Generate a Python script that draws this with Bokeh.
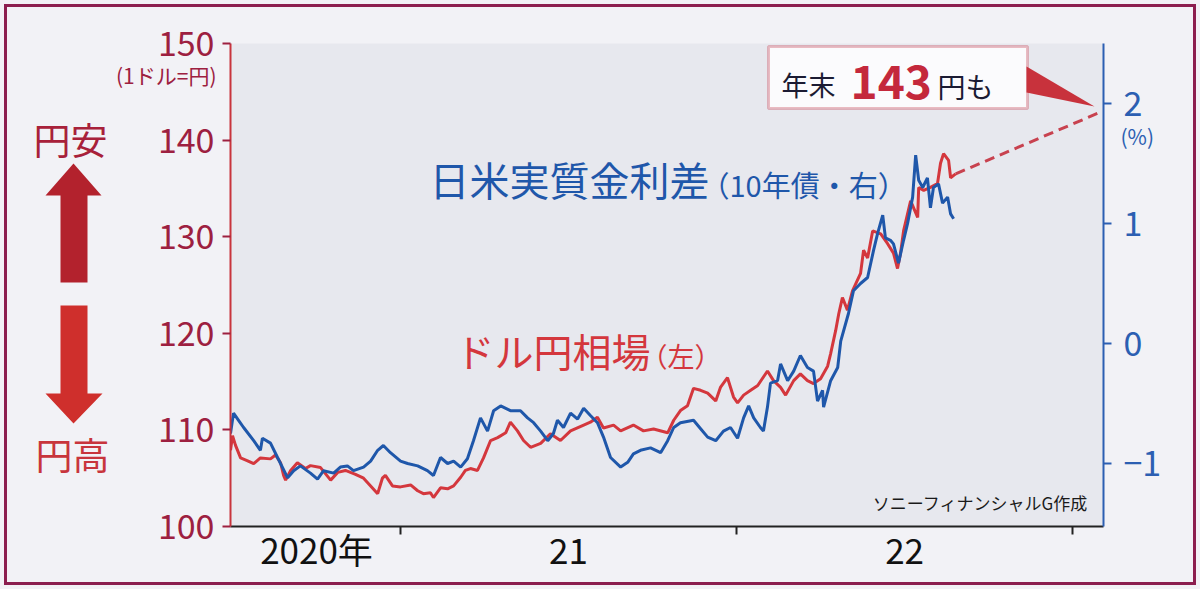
from bokeh.plotting import figure
from bokeh.layouts import row
from bokeh.models import Range1d, LinearAxis, FixedTicker, Label, PolyAnnotation, BoxAnnotation
from bokeh.core.properties import value
from bokeh.embed import file_html
from bokeh.resources import INLINE

FONT = "Noto Sans CJK JP"

# ---- data (time in decimal years) ----
# USD/JPY (left axis, yen per dollar)
usd_t = [2020.494, 2020.500, 2020.509, 2020.524, 2020.545, 2020.563, 2020.583, 2020.613, 2020.628, 2020.643,
         2020.652, 2020.658, 2020.673, 2020.693, 2020.717, 2020.732, 2020.762, 2020.792, 2020.813, 2020.836,
         2020.866, 2020.890, 2020.911, 2020.932, 2020.946, 2020.955, 2020.976, 2021.000, 2021.030, 2021.051,
         2021.068, 2021.089, 2021.098, 2021.119, 2021.140, 2021.158, 2021.179, 2021.193, 2021.208, 2021.229,
         2021.247, 2021.268, 2021.289, 2021.313, 2021.327, 2021.348, 2021.366, 2021.387, 2021.417, 2021.446,
         2021.476, 2021.506, 2021.545, 2021.565, 2021.586, 2021.604, 2021.634, 2021.655, 2021.693, 2021.723,
         2021.753, 2021.795, 2021.813, 2021.833, 2021.854, 2021.872, 2021.893, 2021.914, 2021.938, 2021.952,
         2021.973, 2021.991, 2022.003, 2022.021, 2022.042, 2022.063, 2022.092, 2022.110, 2022.131, 2022.146,
         2022.170, 2022.190, 2022.211, 2022.229, 2022.250, 2022.271, 2022.280, 2022.295, 2022.304, 2022.315,
         2022.330, 2022.345, 2022.369, 2022.378, 2022.390, 2022.405, 2022.429, 2022.449, 2022.467, 2022.479,
         2022.488, 2022.497, 2022.518, 2022.539, 2022.542, 2022.557, 2022.577, 2022.598, 2022.607, 2022.616,
         2022.631, 2022.637, 2022.652]
usd_v = [107.9, 109.4, 108.4, 107.1, 106.8, 106.5, 107.1, 107.0, 107.4, 106.6,
         105.3, 104.8, 105.8, 106.6, 106.0, 106.3, 106.1, 104.8, 105.6, 105.8,
         105.4, 105.0, 104.2, 103.4, 105.0, 105.3, 104.2, 104.1, 104.3, 103.7,
         103.4, 103.5, 103.0, 104.0, 103.9, 104.2, 105.1, 105.8, 106.0, 105.8,
         107.1, 108.9, 109.2, 109.7, 110.8, 109.9, 108.9, 108.2, 108.6, 109.6,
         108.9, 109.9, 110.5, 110.8, 111.3, 110.2, 110.5, 109.9, 110.5, 109.9,
         110.1, 109.7, 111.0, 112.0, 112.5, 114.3, 114.1, 113.8, 113.0, 114.4,
         115.4, 113.4, 112.8, 113.6, 114.1, 114.6, 116.1, 115.1, 114.4, 113.6,
         115.1, 115.8, 115.1, 114.8, 115.3, 116.6, 117.9, 120.3, 122.0, 123.7,
         122.4, 124.4, 126.2, 128.6, 127.8, 130.6, 130.3, 129.3, 128.3, 126.7,
         128.3, 130.6, 133.7, 132.0, 135.1, 134.8, 135.1, 135.5, 137.6, 138.6,
         137.9, 136.1, 136.5]

# Japan-US real interest-rate gap, 10y (right axis, %)
rr_t = [2020.494, 2020.503, 2020.518, 2020.533, 2020.563, 2020.583, 2020.589, 2020.613, 2020.634, 2020.664,
        2020.682, 2020.702, 2020.732, 2020.753, 2020.771, 2020.801, 2020.821, 2020.842, 2020.860, 2020.890,
        2020.911, 2020.932, 2020.949, 2020.970, 2021.000, 2021.021, 2021.051, 2021.080, 2021.098, 2021.119,
        2021.140, 2021.158, 2021.179, 2021.199, 2021.217, 2021.238, 2021.259, 2021.277, 2021.298, 2021.327,
        2021.357, 2021.378, 2021.396, 2021.417, 2021.438, 2021.455, 2021.467, 2021.485, 2021.506, 2021.527,
        2021.545, 2021.565, 2021.586, 2021.604, 2021.625, 2021.655, 2021.676, 2021.693, 2021.714, 2021.744,
        2021.774, 2021.795, 2021.813, 2021.833, 2021.872, 2021.893, 2021.914, 2021.938, 2021.961, 2021.982,
        2022.003, 2022.021, 2022.036, 2022.051, 2022.071, 2022.080, 2022.092, 2022.101, 2022.122, 2022.131,
        2022.152, 2022.170, 2022.190, 2022.211, 2022.229, 2022.241, 2022.256, 2022.259, 2022.280, 2022.301,
        2022.310, 2022.333, 2022.348, 2022.369, 2022.390, 2022.408, 2022.420, 2022.435, 2022.443, 2022.458,
        2022.467, 2022.482, 2022.497, 2022.509, 2022.524, 2022.533, 2022.542, 2022.554, 2022.568, 2022.577,
        2022.586, 2022.601, 2022.613, 2022.628, 2022.637, 2022.646]
rr_v = [-0.75, -0.58, -0.64, -0.70, -0.81, -0.89, -0.79, -0.83, -0.95, -1.12,
        -1.06, -1.02, -1.08, -1.13, -1.06, -1.08, -1.03, -1.02, -1.06, -1.03,
        -0.98, -0.89, -0.85, -0.91, -0.98, -1.00, -1.02, -1.06, -1.10, -0.95,
        -1.00, -0.98, -1.03, -0.96, -0.81, -0.62, -0.73, -0.56, -0.52, -0.56,
        -0.56, -0.62, -0.66, -0.73, -0.81, -0.75, -0.64, -0.70, -0.58, -0.63,
        -0.54, -0.60, -0.66, -0.78, -0.95, -1.03, -0.99, -0.92, -0.89, -0.87,
        -0.91, -0.81, -0.70, -0.66, -0.64, -0.71, -0.78, -0.81, -0.73, -0.70,
        -0.79, -0.62, -0.52, -0.62, -0.70, -0.73, -0.53, -0.33, -0.31, -0.17,
        -0.31, -0.23, -0.10, -0.20, -0.23, -0.48, -0.39, -0.53, -0.31, -0.20,
        0.02, 0.25, 0.44, 0.50, 0.55, 0.78, 0.92, 1.07, 0.88, 0.86,
        0.83, 0.67, 0.86, 1.00, 1.22, 1.57, 1.36, 1.30, 1.38, 1.13,
        1.30, 1.33, 1.17, 1.22, 1.08, 1.04]

# year-end forecast (dashed)
fc_t = [2022.652, 2023.09]
fc_v = [136.5, 143.0]

left_ticks = [100, 110, 120, 130, 140, 150]
right_ticks = [-1, 0, 1, 2]
year_bounds = [2021, 2022, 2023]
year_label_pos = [2020.75, 2021.5, 2022.5]
year_labels = ["2020年", "21", "22"]
yen_unit_pos, yen_unit = 146.79, "(1ドル=円)"
pct_unit_pos, pct_unit = 1.733, "(%)"

# ---- colours ----
RED = "#d4373d"
RED_DARK = "#9d2040"
BLUE = "#1f57aa"
BLUE_AX = "#2c5fb2"
INK = "#1b1b33"
BG_OUT = "#f2f2f6"
BG_IN = "#e7e8ee"

H = 589
TOP, BOTTOM = 43, 63
LEFT_W = 110
MAIN_W = 1200 - LEFT_W

# ================= left decoration panel =================
lf = figure(width=LEFT_W, height=H, output_backend="svg", toolbar_location=None,
            x_range=Range1d(0, LEFT_W), y_range=Range1d(H - BOTTOM, TOP),
            x_axis_location=None, y_axis_location=None,
            min_border_left=0, min_border_right=0, min_border_top=TOP, min_border_bottom=BOTTOM)
lf.outline_line_color = None
lf.background_fill_alpha = 0
lf.border_fill_alpha = 0
lf.grid.visible = False
# up arrow (円安) and down arrow (円高)
lf.patch([73, 101, 87, 87, 60, 60, 45], [163, 195, 195, 282, 282, 195, 195],
         fill_color="#b3222d", line_color=None)
lf.patch([60, 87, 87, 102, 73, 45, 60], [305, 305, 393, 393, 423, 393, 393],
         fill_color="#cf2f2c", line_color=None)
lf.text(x=[33], y=[138], text=["円安"], text_font=value(FONT), text_font_size="37px",
        text_color="#a8213a", text_baseline="middle", text_align="left")
lf.text(x=[35], y=[453], text=["円高"], text_font=value(FONT), text_font_size="37px",
        text_color="#c8353c", text_baseline="middle", text_align="left")

# ================= main chart =================
p = figure(width=MAIN_W, height=H, output_backend="svg", toolbar_location=None,
           x_range=Range1d(2020.494, 2023.092), y_range=Range1d(100, 150),
           min_border_left=120, min_border_right=97, min_border_top=TOP, min_border_bottom=BOTTOM)
p.extra_y_ranges = {"rate": Range1d(-1.525, 2.5)}
p.background_fill_color = BG_IN
p.border_fill_alpha = 0
p.outline_line_color = None
p.grid.visible = False

# bottom axis: year boundaries as (minor) ticks, labels centred in each year
xa = p.xaxis[0]
xa.ticker = FixedTicker(ticks=year_label_pos, minor_ticks=year_bounds)
xa.major_label_overrides = {k: v for k, v in zip(year_label_pos, year_labels)}
xa.major_tick_in = 0
xa.major_tick_out = 0
xa.minor_tick_in = 0
xa.minor_tick_out = 8
xa.minor_tick_line_color = "#222222"
xa.minor_tick_line_width = 2
xa.axis_line_color = "#222222"
xa.axis_line_width = 2
xa.major_label_standoff = -12
xa.major_label_text_font = FONT
xa.major_label_text_font_size = "35px"
xa.major_label_text_color = "#111111"

# left axis (yen)
ya = p.yaxis[0]
ya.ticker = FixedTicker(ticks=left_ticks, minor_ticks=[])
ya.axis_line_color = "#c8343c"
ya.axis_line_width = 2
ya.major_tick_in = 0
ya.major_tick_out = 8
ya.major_tick_line_color = RED_DARK
ya.major_tick_line_width = 2
ya.minor_tick_line_color = None
ya.major_label_standoff = 8
ya.major_label_text_font = FONT
ya.major_label_text_font_size = "34px"
ya.major_label_text_color = RED_DARK

# unit note under 150
ya2 = LinearAxis(ticker=FixedTicker(ticks=[yen_unit_pos], minor_ticks=[]))
ya2.major_label_overrides = {yen_unit_pos: yen_unit}
ya2.axis_line_color = None
ya2.major_tick_line_color = None
ya2.minor_tick_line_color = None
ya2.major_label_standoff = -68
ya2.major_label_text_font = FONT
ya2.major_label_text_font_size = "21px"
ya2.major_label_text_color = RED_DARK
p.add_layout(ya2, "left")

# right axis (%)
ra = LinearAxis(y_range_name="rate", ticker=FixedTicker(ticks=right_ticks, minor_ticks=[]))
ra.major_label_overrides = {-1: "−1"}
ra.axis_line_color = BLUE_AX
ra.axis_line_width = 2
ra.major_tick_in = 0
ra.major_tick_out = 8
ra.major_tick_line_color = BLUE_AX
ra.major_tick_line_width = 2
ra.minor_tick_line_color = None
ra.major_label_standoff = 12
ra.major_label_text_font = FONT
ra.major_label_text_font_size = "34px"
ra.major_label_text_color = BLUE_AX
p.add_layout(ra, "right")

ra2 = LinearAxis(y_range_name="rate", ticker=FixedTicker(ticks=[pct_unit_pos], minor_ticks=[]))
ra2.major_label_overrides = {pct_unit_pos: pct_unit}
ra2.axis_line_color = None
ra2.major_tick_line_color = None
ra2.minor_tick_line_color = None
ra2.major_label_standoff = -50
ra2.major_label_text_font = FONT
ra2.major_label_text_font_size = "21px"
ra2.major_label_text_color = BLUE_AX
p.add_layout(ra2, "right")

# ---- series ----
p.line(fc_t, fc_v, line_color="#c8424f", line_width=3, line_dash="10 6")
p.line(usd_t, usd_v, line_color=RED, line_width=3)
p.line(rr_t, rr_v, line_color=BLUE, line_width=3, y_range_name="rate")

# ---- in-frame decorations (reference-picture pixels -> frame screen units) ----
FX, FY = 230, 526


def lab(text, X, Y, size, color, align="left", bold=False):
    p.add_layout(Label(x=X - FX, y=FY - Y, x_units="screen", y_units="screen", text=text,
                       text_font=FONT, text_font_size=f"{size}px", text_color=color,
                       text_align=align, text_baseline="middle",
                       text_font_style="bold" if bold else "normal"))


# call-out box with pointer
p.add_layout(BoxAnnotation(left=768 - FX, right=1027 - FX, top=FY - 46, bottom=FY - 108,
                           left_units="screen", right_units="screen", top_units="screen",
                           bottom_units="screen", fill_color="#fbfbfd", fill_alpha=1.0,
                           line_color="#c0283a", line_width=3, level="annotation"))
pts = [(1026, 66), (1026, 92), (1094, 106)]
p.add_layout(PolyAnnotation(xs=[X - FX for X, _ in pts], ys=[FY - Y for _, Y in pts],
                            xs_units="screen", ys_units="screen", fill_color="#c8323c",
                            fill_alpha=1.0, line_color=None, level="annotation"))
lab("年末", 781, 84, 27, INK)
lab("143", 850, 81, 46, "#c4283c", bold=True)
lab("円も", 937, 85, 28, INK)

# series captions
lab("日米実質金利差", 429, 178, 40, BLUE)
lab("（10年債・右）", 700, 183, 29, BLUE)
lab("ドル円相場", 455, 349, 39, RED)
lab("（左）", 640, 355, 27, RED)

# source
lab("ソニーフィナンシャルG作成", 1088, 502, 17, "#1a1a1a", align="right")

layout = row(lf, p, spacing=0,
             styles={"background-color": BG_OUT,
                     "outline": "3px solid #8c1f4f", "outline-offset": "-7px"})

open("out.html", "w").write(file_html(layout, INLINE))
